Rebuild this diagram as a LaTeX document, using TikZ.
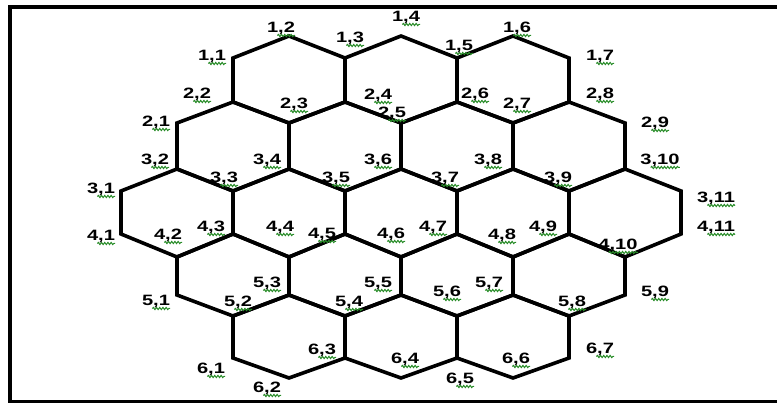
\documentclass[tikz,border=0pt]{standalone}
\usepackage{fontspec}
\usetikzlibrary{decorations.pathmorphing}
\newfontfamily\lblfont{Liberation Sans}[FakeStretch=1.34]
\definecolor{SpellGreen}{RGB}{40,140,40}
\newcommand{\lblsize}{\lblfont\bfseries\fontsize{15}{18}\selectfont}

\begin{document}
\begin{tikzpicture}[
  x=1pt, y=-1pt,
  hexline/.style={draw=black, line width=3.6pt, line join=miter},
  frame/.style={draw=black, line width=4pt},
  lbl/.style={font=\lblsize, inner sep=0pt, anchor=base},
  squig/.style={draw=SpellGreen, line width=1pt,
    decorate, decoration={snake, amplitude=1.1pt, segment length=3.2pt}}
]
\useasboundingbox (0,0) rectangle (777,403);
% frame of the page
\draw[frame] (777,7) -- (9.5,7) -- (9.5,403);
\draw[frame, line width=3pt] (9.5,401.5) -- (777,401.5);
% hexagon rows: top, upper, lower, bottom level / first centre / count
\foreach \a/\b/\c/\d/\xs/\n in {36/58/102/123/289/3, 102/123/169/191/233/4,
    169/191/234/257/177/5, 234/257/295/316/233/4, 295/316/358/378/289/3} {
  \foreach \k in {1,...,\n} {
    \pgfmathsetmacro{\cx}{\xs+112*(\k-1)}
    \draw[hexline] (\cx,\a) -- (\cx+56,\b) -- (\cx+56,\c) -- (\cx,\d)
      -- (\cx-56,\c) -- (\cx-56,\b) -- cycle;
  }
}
% vertex labels
\foreach \r/\c/\x/\y in {1/1/212/55, 1/2/281/27, 1/3/350/37, 1/4/406/16,
    1/5/459/45, 1/6/517/27, 1/7/600/55,
    2/1/156/121, 2/2/197/93, 2/3/294/103, 2/4/378/94, 2/5/392/112,
    2/6/475/93, 2/7/517/103, 2/8/600/93, 2/9/655/122,
    3/1/101/188, 3/2/155/159, 3/3/224/177, 3/4/267/159, 3/5/336/177,
    3/6/378/159, 3/7/445/177, 3/8/488/159, 3/9/558/177, 3/10/660/159,
    3/11/716/197,
    4/1/101/235, 4/2/168/234, 4/3/211/226, 4/4/280/226, 4/5/322/233,
    4/6/391/233, 4/7/433/226, 4/8/502/234, 4/9/543/226, 4/10/618/244,
    4/11/716/226,
    5/1/156/300, 5/2/238/301, 5/3/267/282, 5/4/349/301, 5/5/378/282,
    5/6/447/291, 5/7/489/282, 5/8/572/301, 5/9/655/291,
    6/1/211/368, 6/2/267/387, 6/3/322/349, 6/4/405/358, 6/5/460/378,
    6/6/516/358, 6/7/600/348} {
  \node[lbl] (v\r-\c) at (\x,\y+5.5) {\r,\c};
  \draw[squig] ([xshift=10.5pt, yshift=-3pt]v\r-\c.base west)
    -- ([yshift=-3pt]v\r-\c.base east);
}
\end{tikzpicture}
\end{document}
